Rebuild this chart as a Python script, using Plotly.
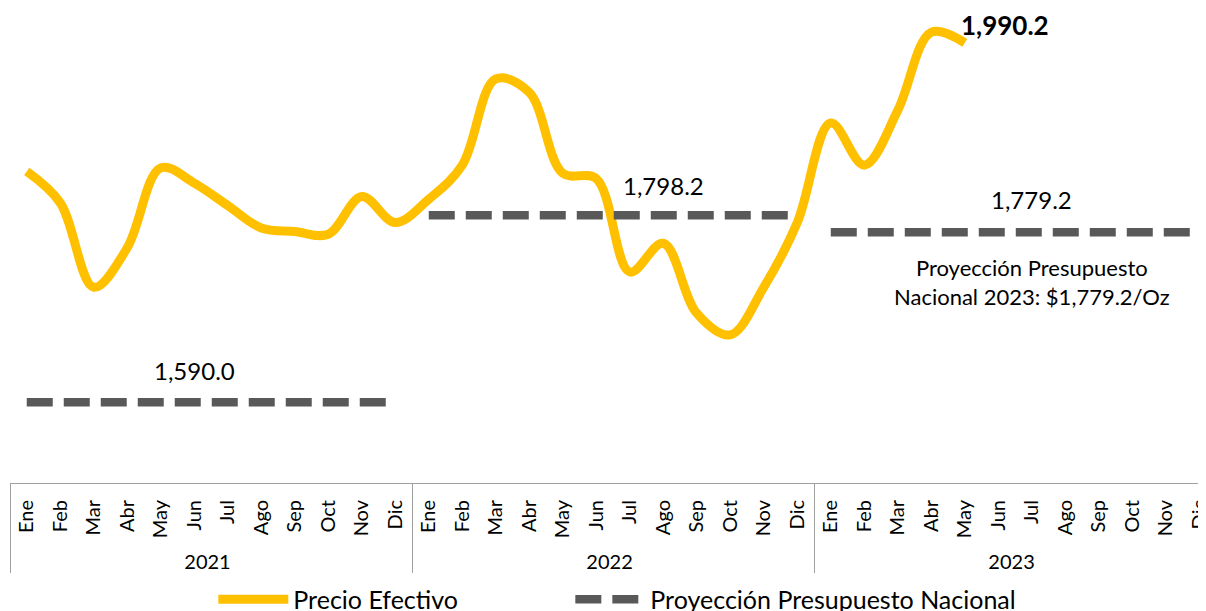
import plotly.graph_objects as go

months = ["Ene", "Feb", "Mar", "Abr", "May", "Jun", "Jul", "Ago", "Sep", "Oct", "Nov", "Dic"]
years = ["2021", "2022", "2023"]

# Precio efectivo mensual (US$/Oz), Ene-2021 .. May-2023
precio = [1847, 1812, 1718, 1762, 1851, 1834, 1809, 1784, 1780, 1777, 1819, 1790,
          1816, 1854, 1950, 1935, 1845, 1839, 1735, 1767, 1689, 1665, 1718, 1790,
          1901, 1854, 1915, 2002, 1990.2]

# Proyección Presupuesto Nacional por año
proyeccion = [1590.0, 1798.2, 1779.2]

GOLD = "#FFC000"
GRAY = "#595959"
FONT = "Lato"

x_range = [-0.5, 35.2]


def cat_x(n, start=0):
    idx = range(start, start + n)
    return [[years[i // 12] for i in idx], [months[i % 12] for i in idx]]


def paper_x(i):
    return (i - x_range[0]) / (x_range[1] - x_range[0])


fig = go.Figure()

fig.add_trace(go.Scatter(
    x=cat_x(len(precio)), y=precio, mode="lines",
    line=dict(color=GOLD, width=9, shape="spline", smoothing=1.0),
    name="Precio Efectivo", legend="legend",
))

for k, val in enumerate(proyeccion):
    fig.add_trace(go.Scatter(
        x=cat_x(12, 12 * k), y=[val] * 12, mode="lines",
        line=dict(color=GRAY, width=8.5, dash="26px,11px"),
        name="Proyección Presupuesto Nacional", legend="legend2",
        legendgroup="proy", showlegend=(k == 0),
    ))

ann_font = dict(family=FONT, size=24, color="#000000")
# value labels over each projection line
label_idx = [5, 19, 30]
shifts = [32, 30, 33]
for k, val in enumerate(proyeccion):
    fig.add_annotation(
        x=paper_x(label_idx[k]), xref="paper", y=val, yref="y",
        text=f"{val:,.1f}", showarrow=False, font=ann_font,
        xanchor="center", yanchor="middle", yshift=shifts[k],
    )

fig.add_annotation(
    x=paper_x(30), xref="paper", y=proyeccion[2], yref="y",
    text=f"Proyección Presupuesto<br>Nacional 2023: ${proyeccion[2]:,.1f}/Oz",
    showarrow=False, font=dict(family=FONT, size=22, color="#000000"),
    xanchor="center", yanchor="middle", yshift=-50,
)

last = len(precio) - 1
fig.add_annotation(
    x=paper_x(last), xref="paper", y=precio[-1], yref="y",
    text=f"<b>{precio[-1]:,.1f}</b>", showarrow=False,
    font=dict(family=FONT, size=26, color="#000000"),
    xanchor="left", yanchor="middle", xshift=-6, yshift=18,
)

legend_style = dict(
    orientation="h", xanchor="left", y=-0.197, yanchor="top",
    font=dict(family=FONT, size=25, color="#000000"),
    itemwidth=70, bgcolor="rgba(0,0,0,0)",
)

# the page body adds an 8px offset; figure sized so it ends at the window edge
fig.update_layout(
    width=1198, height=603,
    margin=dict(l=2, r=0, t=0, b=128, autoexpand=False),
    paper_bgcolor="white", plot_bgcolor="white",
    font=dict(family=FONT, color="#000000"),
    showlegend=True,
    legend=dict(x=0.17, **legend_style),
    legend2=dict(x=0.4685, **legend_style),
)

fig.update_xaxes(
    type="multicategory", range=x_range,
    tickangle=-90, tickfont=dict(family=FONT, size=20, color="#000000"),
    ticklabelstandoff=8,
    showline=True, linecolor="#a0a0a0", linewidth=1,
    showdividers=True, dividercolor="#a0a0a0", dividerwidth=1,
    showgrid=False, ticks="", automargin=False, zeroline=False,
)
fig.update_yaxes(range=[1500, 2029], visible=False, showgrid=False)

fig.write_html("out.html")
